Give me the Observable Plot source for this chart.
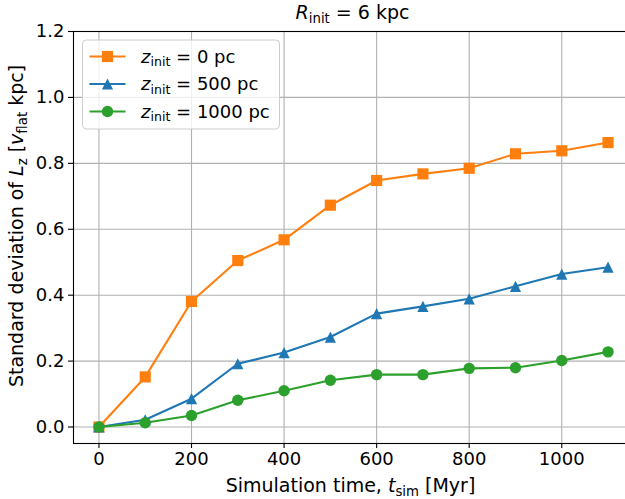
<!DOCTYPE html>
<html>
<head>
<meta charset="utf-8">
<script src="https://cdn.jsdelivr.net/npm/d3@7"></script>
<script src="https://cdn.jsdelivr.net/npm/@observablehq/plot@0.6"></script>
<style>
  body { margin: 0; background: #fff; }
  #chart { position: relative; width: 625px; height: 499px; overflow: hidden; }
  #chart svg { overflow: hidden; }
</style>
</head>
<body>
<div id="chart"></div>
<script>
// Simulation snapshots (Myr)
const times = [0, 100, 200, 300, 400, 500, 600, 700, 800, 900, 1000, 1100];

// Standard deviation of L_z [v_flat kpc] for each initial height
const stdLz_z0 = [0.000, 0.152, 0.381, 0.505, 0.568, 0.673, 0.748, 0.768, 0.785, 0.829, 0.838, 0.863];
const stdLz_z500 = [0.000, 0.022, 0.086, 0.192, 0.226, 0.273, 0.344, 0.366, 0.389, 0.427, 0.464, 0.485];
const stdLz_z1000 = [0.000, 0.013, 0.035, 0.081, 0.110, 0.142, 0.159, 0.159, 0.178, 0.180, 0.202, 0.228];

const seriesLabels = ["0 pc", "500 pc", "1000 pc"];
const seriesColors = ["#ff7f0e", "#1f77b4", "#2ca02c"];

// isosceles "up" triangle, as wide as it is tall, centred on its bounding box
const triangleUp = {
  draw(ctx, size) {
    const h = Math.sqrt(size / Math.PI);
    ctx.moveTo(0, -h);
    ctx.lineTo(h, h);
    ctx.lineTo(-h, h);
    ctx.closePath();
  }
};
const seriesSymbols = [d3.symbolSquare, triangleUp, d3.symbolCircle];
const seriesRadius = [6.3, 5.6, 5.7];

const xTicks = [0, 200, 400, 600, 800, 1000];
const yTicks = [0.0, 0.2, 0.4, 0.6, 0.8, 1.0, 1.2];

const FONT = "DejaVu Sans";
const FS_TICK = 18;
const FS_LABEL = 19;
const FS_LEGEND = 18;
const W = 625, H = 499;
const mL = 73, mR = -8, mT = 31, mB = 56;

const seriesValues = [stdLz_z0, stdLz_z500, stdLz_z1000];
const rows = seriesValues.flatMap((vals, s) =>
  times.map((t, i) => ({ t, v: vals[i], s }))
);

const marks = [
  Plot.gridX(xTicks, { stroke: "#b0b0b0", strokeOpacity: 1, strokeWidth: 1.1 }),
  Plot.gridY(yTicks, { stroke: "#b0b0b0", strokeOpacity: 1, strokeWidth: 1.1 }),
];
seriesValues.forEach((_, s) => {
  const data = rows.filter(d => d.s === s);
  marks.push(
    Plot.line(data, { x: "t", y: "v", stroke: seriesColors[s], strokeWidth: 2.1 }),
    Plot.dot(data, { x: "t", y: "v", symbol: seriesSymbols[s], r: seriesRadius[s],
      fill: seriesColors[s], stroke: "none" })
  );
});
marks.push(
  Plot.frame({ stroke: "black", strokeWidth: 1.1 }),
  Plot.axisX(xTicks, { tickSize: 5, tickPadding: 4, tickFormat: d => String(d),
    fontSize: FS_TICK, label: null, stroke: "black", strokeWidth: 1.1 }),
  Plot.axisY(yTicks, { tickSize: 5, tickPadding: 4, tickFormat: d3.format(".1f"),
    fontSize: FS_TICK, label: null, stroke: "black", strokeWidth: 1.1 })
);

const chart = Plot.plot({
  width: W, height: H,
  marginLeft: mL, marginRight: mR, marginTop: mT, marginBottom: mB,
  style: { fontFamily: FONT, fontSize: FS_TICK + "px", color: "black", background: "white" },
  x: { domain: [-55, 1155] },
  y: { domain: [-0.05, 1.2] },
  marks
});
document.getElementById("chart").appendChild(chart);

const svg = d3.select(chart);
svg.selectAll('g[aria-label="x-axis tick label"], g[aria-label="y-axis tick label"]').attr("fill", "black");

// text with math-style subscripts: parts are [text, kind] with kind "", "i" (italic) or "sub"
function richText(g, parts, size, anchor) {
  const t = g.append("text").attr("font-family", FONT).attr("font-size", size)
    .attr("fill", "black").attr("text-anchor", anchor);
  let shifted = false;
  for (const [str, kind] of parts) {
    const ts = t.append("tspan").text(str);
    if (kind === "i") ts.attr("font-style", "italic");
    if (kind === "sub") {
      ts.attr("font-size", size * 0.7).attr("dy", size * 0.2);
      shifted = true;
    } else if (shifted) {
      ts.attr("dy", -size * 0.2);
      shifted = false;
    }
  }
  return t;
}

const plotCx = (mL + 632) / 2;

// title
richText(svg.append("g"), [["R", "i"], ["init", "sub"], [" = 6 kpc", ""]], FS_LABEL, "middle")
  .attr("x", plotCx).attr("y", 19);

// x label
richText(svg.append("g"), [["Simulation time, ", ""], ["t", "i"], ["sim", "sub"], [" [Myr]", ""]], FS_LABEL, "middle")
  .attr("x", plotCx - 2).attr("y", 492);

// y label
richText(svg.append("g").attr("transform", "translate(23,226) rotate(-90)"),
  [["Standard deviation of ", ""], ["L", "i"], ["z", "sub"], [" [", ""], ["v", "i"], ["flat", "sub"], [" kpc]", ""]],
  FS_LABEL, "middle")
  .attr("x", 0).attr("y", 0);

// legend box
const leg = svg.append("g").attr("transform", "translate(82.5,40)");
leg.append("rect").attr("width", 197).attr("height", 89).attr("rx", 4)
  .attr("fill", "white").attr("fill-opacity", 0.8).attr("stroke", "#cccccc").attr("stroke-width", 1);
seriesLabels.forEach((lab, s) => {
  const row = leg.append("g").attr("transform", `translate(0,${16.5 + s * 27.5})`);
  row.append("line").attr("x1", 7).attr("x2", 43).attr("y1", 0).attr("y2", 0)
    .attr("stroke", seriesColors[s]).attr("stroke-width", 2.1);
  row.append("path").attr("transform", "translate(25,0)")
    .attr("d", d3.symbol(seriesSymbols[s], Math.PI * seriesRadius[s] ** 2)())
    .attr("fill", seriesColors[s]);
  richText(row, [["z", "i"], ["init", "sub"], [" = " + lab, ""]], FS_LEGEND, "start")
    .attr("x", 58.5).attr("y", 6);
});
</script>
</body>
</html>
